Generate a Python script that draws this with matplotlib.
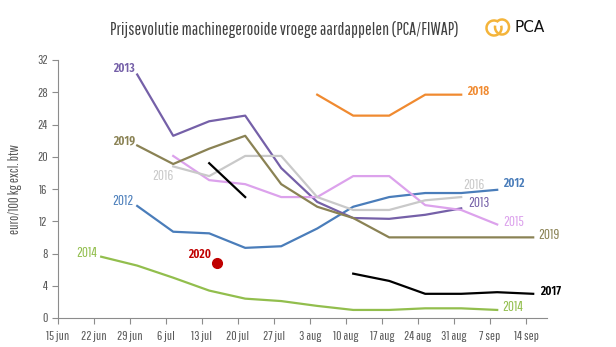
import numpy as np
import pandas as pd
import matplotlib
matplotlib.use("Agg")
import matplotlib.pyplot as plt
from matplotlib.patches import Arc

nan = np.nan

# --- data (euro/100 kg excl. btw), weekly quotations ------------------------
week_dates = ["2020-06-23", "2020-06-30", "2020-07-07", "2020-07-14", "2020-07-21",
              "2020-07-28", "2020-08-04", "2020-08-11", "2020-08-18", "2020-08-25",
              "2020-09-01", "2020-09-08", "2020-09-15"]
p2012 = [nan, 13.9, 10.7, 10.5, 8.7, 8.9, 11.1, 13.8, 15.0, 15.5, 15.5, 15.9, nan]
p2013 = [nan, 30.2, 22.6, 24.4, 25.1, 18.6, 14.4, 12.4, 12.3, 12.8, 13.6, nan, nan]
p2014 = [7.6, 6.5, 5.0, 3.4, 2.4, 2.1, 1.5, 1.0, 1.0, 1.2, 1.2, 1.0, nan]
p2015 = [nan, nan, 20.1, 17.1, 16.6, 15.0, 15.0, 17.6, 17.6, 14.0, 13.4, 11.6, nan]
p2016 = [nan, nan, 18.8, 17.6, 20.1, 20.1, 15.0, 13.4, 13.4, 14.6, 15.0, nan, nan]
p2017 = [nan, nan, nan, 19.2, 15.0, nan, nan, 5.5, 4.6, 3.0, 3.0, 3.2, 3.0]
p2018 = [nan, nan, nan, nan, nan, nan, 27.7, 25.1, 25.1, 27.7, 27.7, nan, nan]
p2019 = [nan, 21.4, 19.1, 21.0, 22.6, 16.6, 13.8, 12.4, 10.0, 10.0, 10.0, 10.0, 10.0]
date_2020 = "2020-07-16"
p2020 = 6.8

tick_dates = ["2020-06-15", "2020-06-22", "2020-06-29", "2020-07-06", "2020-07-13",
              "2020-07-20", "2020-07-27", "2020-08-03", "2020-08-10", "2020-08-17",
              "2020-08-24", "2020-08-31", "2020-09-07", "2020-09-14"]
tick_labels = ["15 jun", "22 jun", "29 jun", "6 jul", "13 jul", "20 jul", "27 jul",
               "3 aug", "10 aug", "17 aug", "24 aug", "31 aug", "7 sep", "14 sep"]

plt.rcParams["font.family"] = ["Pathway Gothic One", "DejaVu Sans"]
BOLD = ["Fira Sans Extra Condensed", "DejaVu Sans"]

t0 = pd.Timestamp("2020-06-15")
def days(ds):
    return [(pd.Timestamp(d) - t0).total_seconds() / 86400 for d in ds]

x = np.array(days(week_dates)) + 0.4

fig = plt.figure(figsize=(6.16, 3.47), dpi=100)
ax = fig.add_axes([58 / 616, 1 - 318 / 347, 489 / 616, 258 / 347])

series = [
    # name, values, colour, left label (dx, dy, bold), right label (dx, dy, bold)
    ("2012", p2012, "#4A7DBA", (-4, 5, False), (6, 6, True)),
    ("2013", p2013, "#7560A8", (-2, 6, True), (7, 5, False)),
    ("2014", p2014, "#92BE4D", (-4, 4, False), (5, 3, False)),
    ("2015", p2015, "#DCA2EC", None, (6, 2, False)),
    ("2016", p2016, "#C9C9C9", (0, -10, False), (2, 12, False)),
    ("2017", p2017, "#000000", None, (7, 2, True)),
    ("2018", p2018, "#F08A30", None, (6, 3, True)),
    ("2019", p2019, "#8A8254", (-2, 5, True), (5, 2, False)),
]


def label(name, xy, off, ha, col, bold):
    kw = dict(family=BOLD, fontweight="semibold", fontsize=9) if bold else dict(fontsize=10.5)
    ax.annotate(name, xy, xytext=off, textcoords="offset pixels",
                ha=ha, va="center", color=col, **kw)


for name, vals, col, left, right in series:
    v = np.array(vals, dtype=float)
    ax.plot(x, v, color=col, lw=1.6)
    ok = np.where(~np.isnan(v))[0]
    if left is not None:
        i = ok[0]
        label(name, (x[i], v[i]), left[:2], "right", col, left[2])
    if right is not None:
        i = ok[-1]
        label(name, (x[i], v[i]), right[:2], "left", col, right[2])

x20 = days([date_2020])[0]
ax.plot([x20], [p2020], "o", color="#C00000", ms=7)
label("2020", (x20, p2020), (-6, 9), "right", "#C00000", True)

ax.set_xlim(0, (547 - 58) / (36 / 7))
ax.set_ylim(0, 32)
ax.set_xticks(days(tick_dates))
ax.set_xticklabels(tick_labels)
ax.set_yticks(range(0, 33, 4))
for s in ["top", "right"]:
    ax.spines[s].set_visible(False)
for s in ["left", "bottom"]:
    ax.spines[s].set_color("#8C8C8C")
    ax.spines[s].set_linewidth(0.8)
ax.tick_params(colors="#8C8C8C", labelcolor="#595959", labelsize=9.5, length=4, width=0.8)
ax.tick_params(axis="x", pad=5)
ax.set_ylabel("euro/100 kg excl. btw", color="#595959", fontsize=10)
ax.yaxis.set_label_coords(-36 / 489, 0.5)

fig.text(284 / 616, 1 - 30 / 347, "Prijsevolutie machinegerooide vroege aardappelen (PCA/FIWAP)",
         ha="center", va="center", color="#404040", fontsize=12.7)

# PCA logo
gold = "#F4B43A"
fig.add_artist(Arc((494 / 616, 1 - 28 / 347), 15 / 616, 15 / 347, theta1=70, theta2=390,
                   transform=fig.transFigure, color=gold, lw=1.8))
fig.add_artist(Arc((502 / 616, 1 - 27 / 347), 14 / 616, 15 / 347, theta1=160, theta2=480,
                   transform=fig.transFigure, color=gold, lw=1.8))
fig.text(515 / 616, 1 - 28 / 347, "PCA", ha="left", va="center", color="#111111",
         fontsize=11, family=["DejaVu Sans"], fontweight="normal")

fig.savefig("out.png", dpi=100)
